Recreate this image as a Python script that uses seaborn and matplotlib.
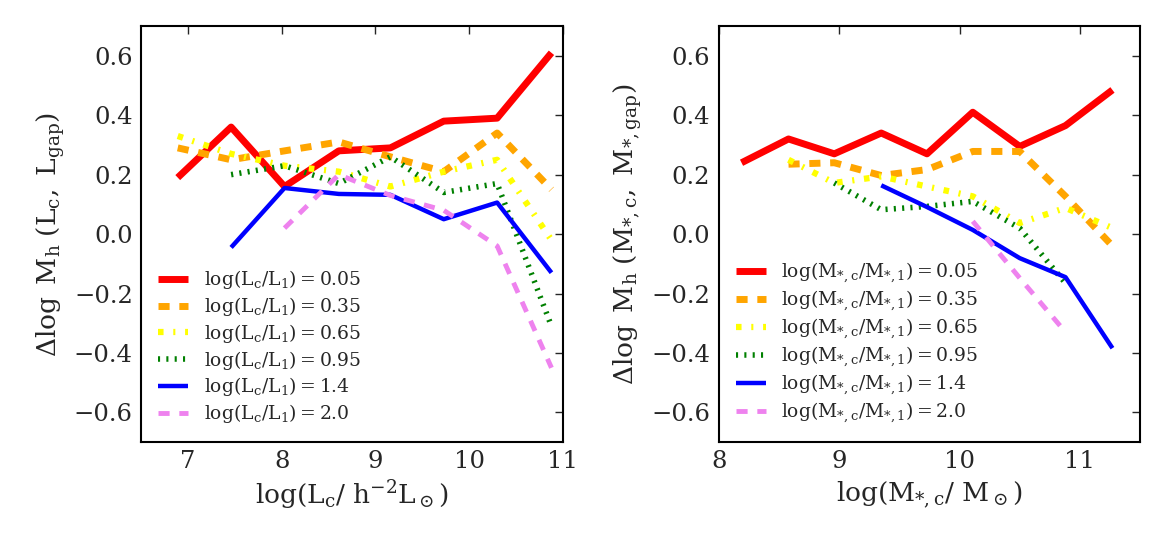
import numpy as np
import pandas as pd
import matplotlib
matplotlib.use('Agg')
import matplotlib.pyplot as plt
import seaborn as sns

sns.set_style('white')
plt.rcParams['font.family'] = ['DejaVu Serif']
plt.rcParams['mathtext.fontset'] = 'dejavuserif'
plt.rcParams['mathtext.default'] = 'rm'
plt.rcParams['lines.scale_dashes'] = False
plt.rcParams['axes.unicode_minus'] = True

# left panel: central luminance bins
lum_x = [6.89, 7.46, 8.03, 8.61, 9.16, 9.73, 10.30, 10.88]
lum_005 = [0.19, 0.36, 0.16, 0.28, 0.29, 0.38, 0.39, 0.61]
lum_035 = [0.29, 0.25, 0.28, 0.31, 0.26, 0.21, 0.34, 0.15]
lum_065 = [0.33, 0.27, 0.23, 0.21, 0.16, 0.21, 0.25, -0.02]
lum_095 = [None, 0.20, 0.23, 0.17, 0.26, 0.14, 0.17, -0.31]
lum_14 = [None, -0.045, 0.155, 0.135, 0.132, 0.05, 0.106, -0.13]
lum_20 = [None, None, 0.02, 0.20, 0.13, 0.08, -0.04, -0.45]

# right panel: central stellar mass bins
mass_x = [8.19, 8.58, 8.96, 9.35, 9.73, 10.11, 10.50, 10.88, 11.27]
mass_005 = [0.24, 0.32, 0.27, 0.34, 0.27, 0.41, 0.295, 0.365, 0.485]
mass_035 = [None, 0.235, 0.24, 0.197, 0.217, 0.278, 0.278, 0.127, -0.04]
mass_065 = [None, 0.25, 0.172, 0.194, 0.16, 0.127, 0.037, 0.088, 0.02]
mass_095 = [None, None, 0.172, 0.082, 0.093, 0.11, 0.02, -0.165, None]
mass_14 = [None, None, None, 0.164, 0.091, 0.014, -0.081, -0.145, -0.384]
mass_20 = [None, None, None, None, None, 0.043, -0.148, -0.33, None]

gap_labels = ['0.05', '0.35', '0.65', '0.95', '1.4', '2.0']
colors = ['red', 'orange', 'yellow', 'green', 'blue', 'violet']
styles = ['-', (0, (8, 7)), (0, (4, 7, 1.5, 7)), (0, (1.5, 4.5)), '-', (0, (8, 7))]
widths = [5, 5, 4.5, 4, 3.2, 3.5]

fig, axes = plt.subplots(1, 2, figsize=(11.67, 5.54), dpi=100)
fig.subplots_adjust(left=0.121, right=0.977, bottom=0.202, top=0.953, wspace=0.37)

panels = [
    (axes[0], lum_x, [lum_005, lum_035, lum_065, lum_095, lum_14, lum_20],
     r'$\log(L_c/L_1) = VAL$',
     r'$\log(L_c/\ h^{-2}L_\odot)$',
     r'$\Delta \log\ M_h\ (L_c,\ L_{gap})$', (6.5, 11), [7, 8, 9, 10, 11]),
    (axes[1], mass_x, [mass_005, mass_035, mass_065, mass_095, mass_14, mass_20],
     r'$\log(M_{*,c}/M_{*,1}) = VAL$',
     r'$\log(M_{*,c}/\ M_\odot)$',
     r'$\Delta \log\ M_h\ (M_{*,c},\ M_{*,gap})$', (8, 11.5), [8, 9, 10, 11]),
]

for ax, xs, series, lab, xlabel, ylabel, xlim, xticks in panels:
    for ys, gl, c, ls, lw in zip(series, gap_labels, colors, styles, widths):
        d = pd.DataFrame({'x': xs, 'y': ys}).dropna()
        sns.lineplot(data=d, x='x', y='y', ax=ax, color=c, linestyle=ls,
                     linewidth=lw, label=lab.replace('VAL', gl),
                     solid_capstyle='butt', dash_capstyle='butt')
    ax.set_xlim(*xlim)
    ax.set_ylim(-0.7, 0.7)
    ax.set_xticks(xticks)
    ax.set_yticks([-0.6, -0.4, -0.2, 0.0, 0.2, 0.4, 0.6])
    ax.set_xlabel(xlabel, fontsize=19)
    ax.set_ylabel(ylabel, fontsize=19, labelpad=5)
    ax.tick_params(direction='in', top=True, right=True, length=6, width=1,
                   labelsize=17.5, pad=6)
    for s in ax.spines.values():
        s.set_linewidth(1.5)
        s.set_color('black')
    ax.legend(loc='lower left', frameon=False, fontsize=13.5, handlelength=1.6,
              handletextpad=0.85, labelspacing=0.2)

fig.savefig('out.png', dpi=100)
